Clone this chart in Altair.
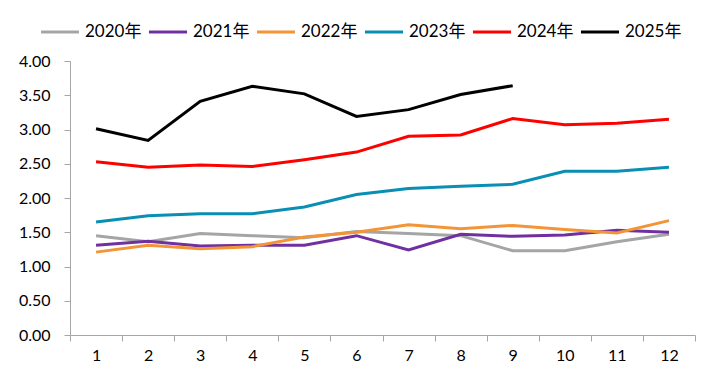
import altair as alt
import pandas as pd

months = [str(m) for m in range(1, 13)]
years = ["2020年", "2021年", "2022年", "2023年", "2024年", "2025年"]
colors = ["#A5A5A5", "#7030A0", "#F39436", "#0A8FB4", "#FF0000", "#000000"]

v2020 = [1.45, 1.36, 1.48, 1.45, 1.42, 1.51, 1.48, 1.45, 1.23, 1.23, 1.36, 1.47]
v2021 = [1.31, 1.37, 1.30, 1.31, 1.31, 1.45, 1.24, 1.47, 1.44, 1.46, 1.53, 1.50]
v2022 = [1.21, 1.31, 1.26, 1.29, 1.43, 1.50, 1.61, 1.55, 1.60, 1.54, 1.49, 1.67]
v2023 = [1.65, 1.74, 1.77, 1.77, 1.87, 2.05, 2.14, 2.17, 2.20, 2.39, 2.39, 2.45]
v2024 = [2.53, 2.45, 2.48, 2.46, 2.56, 2.67, 2.90, 2.92, 3.16, 3.07, 3.09, 3.15]
v2025 = [3.01, 2.84, 3.41, 3.63, 3.52, 3.19, 3.29, 3.51, 3.64]

series = [v2020, v2021, v2022, v2023, v2024, v2025]
rows = []
for y, vals in zip(years, series):
    for m, v in zip(months, vals):
        rows.append({"month": m, "year": y, "value": v})
df = pd.DataFrame(rows)

font = "Lato, Noto Sans CJK SC, sans-serif"
axis_gray = "#A6A6A6"

chart = (
    alt.Chart(df)
    .mark_line(strokeWidth=3)
    .encode(
        x=alt.X(
            "month:O",
            sort=months,
            bandPosition=0.5,
            scale=alt.Scale(type="band", paddingInner=0, paddingOuter=0),
            axis=alt.Axis(
                title=None,
                labelAngle=0,
                tickBand="extent",
                tickSize=6,
                tickColor=axis_gray,
                domainColor=axis_gray,
                labelFont=font,
                labelFontSize=16,
                labelColor="#000000",
                labelPadding=6,
                grid=False,
            ),
        ),
        y=alt.Y(
            "value:Q",
            scale=alt.Scale(domain=[0, 4], nice=False, zero=True),
            axis=alt.Axis(
                title=None,
                values=[0, 0.5, 1, 1.5, 2, 2.5, 3, 3.5, 4],
                format=".2f",
                grid=False,
                tickSize=6,
                tickColor=axis_gray,
                domainColor=axis_gray,
                labelFont=font,
                labelFontSize=16,
                labelColor="#000000",
                labelPadding=14,
            ),
        ),
        color=alt.Color(
            "year:N",
            sort=years,
            scale=alt.Scale(domain=years, range=colors),
            legend=alt.Legend(
                title=None,
                orient="none",
                legendX=-31,
                legendY=-50,
                direction="horizontal",
                columns=6,
                symbolType="stroke",
                symbolSize=1450,
                symbolStrokeWidth=3,
                labelFont=font,
                labelFontSize=17,
                labelColor="#000000",
                labelOffset=4,
                columnPadding=0,
            ),
        ),
    )
    .properties(
        width=625,
        height=274,
        padding={"left": 62, "top": 53, "right": 10, "bottom": 30},
        autosize=alt.AutoSizeParams(type="none"),
    )
    .configure_view(stroke=None)
)

chart.save("out.html", embed_options={"renderer": "svg", "actions": False})
